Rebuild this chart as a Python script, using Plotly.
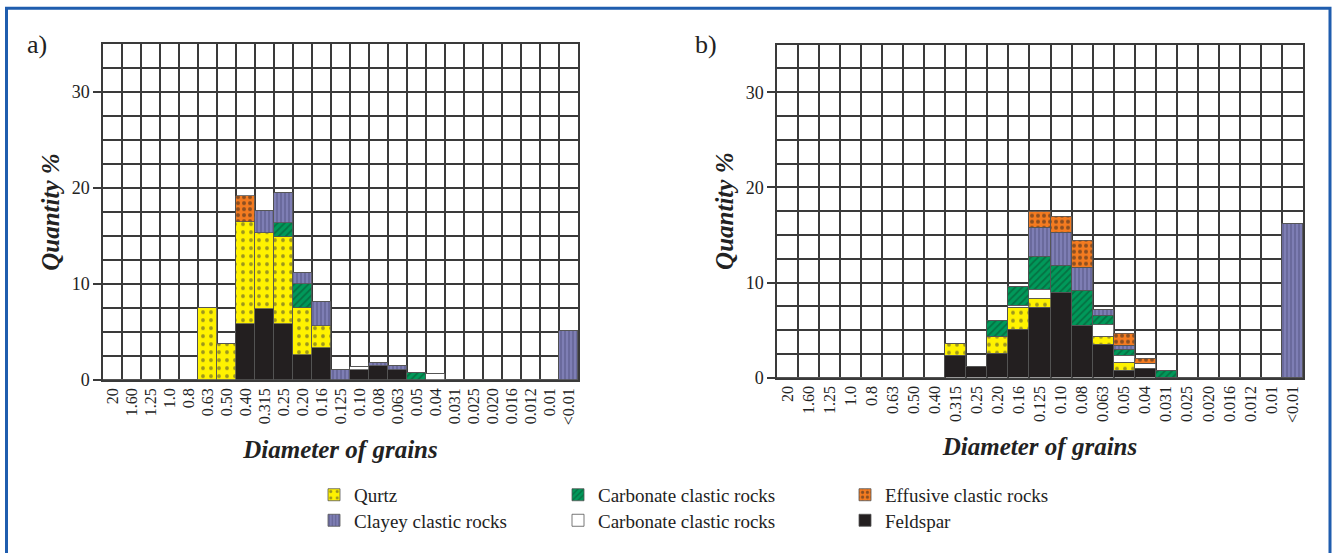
import plotly.graph_objects as go

W, H = 1335, 553

categories = ["20", "1.60", "1.25", "1.0", "0.8", "0.63", "0.50", "0.40", "0.315", "0.25",
              "0.20", "0.16", "0.125", "0.10", "0.08", "0.063", "0.05", "0.04", "0.031",
              "0.025", "0.020", "0.016", "0.012", "0.01", "<0.01"]

# Panel a) values (%), stacked bottom -> top
feldspar_a = [0, 0, 0, 0, 0, 0, 0, 5.8, 7.4, 5.8, 2.6, 3.3, 0, 1.0, 1.45, 1.0, 0, 0, 0, 0, 0, 0, 0, 0, 0]
quartz_a   = [0, 0, 0, 0, 0, 7.5, 3.7, 10.6, 7.9, 9.1, 4.85, 2.3, 0, 0, 0, 0, 0, 0, 0, 0, 0, 0, 0, 0, 0]
white_a    = [0, 0, 0, 0, 0, 0, 0, 0, 0, 0, 0, 0, 0, 0.3, 0, 0, 0, 0.6, 0, 0, 0, 0, 0, 0, 0]
green_a    = [0, 0, 0, 0, 0, 0, 0, 0, 0, 1.4, 2.55, 0, 0, 0, 0, 0, 0.75, 0, 0, 0, 0, 0, 0, 0, 0]
clayey_a   = [0, 0, 0, 0, 0, 0, 0, 0, 2.3, 3.2, 1.1, 2.5, 1.05, 0, 0.35, 0.4, 0, 0, 0, 0, 0, 0, 0, 0, 5.1]
effusive_a = [0, 0, 0, 0, 0, 0, 0, 2.8, 0, 0, 0, 0, 0, 0, 0, 0, 0, 0, 0, 0, 0, 0, 0, 0, 0]

# Panel b) values (%)
feldspar_b = [0, 0, 0, 0, 0, 0, 0, 0, 2.35, 1.15, 2.5, 5.0, 7.4, 8.95, 5.45, 3.5, 0.75, 1.0, 0, 0, 0, 0, 0, 0, 0]
quartz_b   = [0, 0, 0, 0, 0, 0, 0, 0, 1.2, 0, 1.8, 2.35, 0.9, 0, 0, 0.8, 0.8, 0, 0, 0, 0, 0, 0, 0, 0]
white_b    = [0, 0, 0, 0, 0, 0, 0, 0, 0, 0, 0, 0.2, 1.0, 0, 0, 1.3, 0.75, 0.5, 0, 0, 0, 0, 0, 0, 0]
green_b    = [0, 0, 0, 0, 0, 0, 0, 0, 0, 0, 1.65, 2.05, 3.4, 2.85, 3.65, 0.9, 0.65, 0, 0.75, 0, 0, 0, 0, 0, 0]
clayey_b   = [0, 0, 0, 0, 0, 0, 0, 0, 0, 0, 0, 0, 3.05, 3.4, 2.5, 0.65, 0.45, 0, 0, 0, 0, 0, 0, 0, 16.2]
effusive_b = [0, 0, 0, 0, 0, 0, 0, 0, 0, 0, 0, 0, 1.65, 1.75, 2.85, 0, 1.2, 0.5, 0, 0, 0, 0, 0, 0, 0]

SERIF = "Liberation Serif"

series = [
    # name, color, pattern, legend id, a-values, b-values
    ("Feldspar", "#231F20", dict(shape=""), "legend6", feldspar_a, feldspar_b),
    ("Qurtz", "#FFF200", dict(shape=".", fgcolor="#3a3a3a", size=8, solidity=0.18, fillmode="overlay"), "legend", quartz_a, quartz_b),
    ("Carbonate clastic rocks ", "#FFFFFF", dict(shape=""), "legend5", white_a, white_b),
    ("Carbonate clastic rocks", "#00995A", dict(shape="/", fgcolor="#0B4A2C", size=5, solidity=0.35, fillmode="overlay"), "legend2", green_a, green_b),
    ("Clayey clastic rocks", "#7E7EB4", dict(shape="|", fgcolor="#4A4A78", size=4, solidity=0.4, fillmode="overlay"), "legend4", clayey_a, clayey_b),
    ("Effusive clastic rocks", "#F47B20", dict(shape=".", fgcolor="#222222", size=6, solidity=0.35, fillmode="overlay"), "legend3", effusive_a, effusive_b),
]

xs = [i + 0.5 for i in range(len(categories))]

fig = go.Figure()
for name, color, pat, leg, va, vb in series:
    for vals, xa, ya, show in ((va, "x", "y", True), (vb, "x2", "y2", False)):
        fig.add_trace(go.Bar(
            x=xs, y=vals, width=1.0, name=name, xaxis=xa, yaxis=ya,
            legendgroup=name, showlegend=show, legend=leg,
            marker=dict(color=color, pattern=pat, line=dict(color="#555555", width=0.8)),
            hoverinfo="x+y+name",
        ))

grid = "#3a3a3a"

def xaxis_cfg(domain, anchor):
    return dict(
        domain=domain, anchor=anchor, range=[0, len(categories)],
        tickmode="array", tickvals=xs, ticktext=categories, tickangle=-90,
        ticks="", showgrid=False, zeroline=False,
        showline=True, linecolor=grid, linewidth=1.5, mirror=True,
        minor=dict(tickmode="linear", tick0=0, dtick=1, showgrid=True, gridcolor=grid, gridwidth=1.6, ticks=""),
        tickfont=dict(family=SERIF, size=16, color="#222"),
        title=dict(text="<b><i>Diameter of grains</i></b>", font=dict(family=SERIF, size=25, color="#222"), standoff=16),
    )

def yaxis_cfg(domain, anchor):
    return dict(
        domain=domain, anchor=anchor, range=[0, 35],
        tickmode="array", tickvals=[0, 10, 20, 30], ticks="outside", ticklen=8, tickwidth=1.5, tickcolor=grid,
        showgrid=True, gridcolor=grid, gridwidth=1.6, zeroline=False,
        showline=True, linecolor=grid, linewidth=1.5, mirror=True,
        minor=dict(tickmode="linear", tick0=0, dtick=2.5, showgrid=True, gridcolor=grid, gridwidth=1.6, ticks=""),
        tickfont=dict(family=SERIF, size=18, color="#222"),
        title=dict(text="<b><i>Quantity %</i></b>", font=dict(family=SERIF, size=25, color="#222"), standoff=5),
    )

def legend_cfg(text_x, y):
    # text starts ~42 px right of the legend's left edge
    return dict(orientation="h", x=(text_x - 42) / W, y=1 - y / H, xanchor="left", yanchor="middle",
                font=dict(family=SERIF, size=19, color="#222"), bgcolor="rgba(0,0,0,0)")

fig.update_layout(
    width=W, height=H, margin=dict(l=0, r=0, t=0, b=0),
    paper_bgcolor="white", plot_bgcolor="white",
    barmode="stack", bargap=0,
    xaxis=xaxis_cfg([103 / W, 578 / W], "y"),
    yaxis=yaxis_cfg([1 - 387 / H, 1 - 45 / H], "x"),
    xaxis2=xaxis_cfg([777 / W, 1303 / W], "y2"),
    yaxis2=yaxis_cfg([1 - 384.7 / H, 1 - 45.5 / H], "x2"),
    legend=legend_cfg(356, 504),
    legend2=legend_cfg(600, 504),
    legend3=legend_cfg(887, 504),
    legend4=legend_cfg(356, 530),
    legend5=legend_cfg(600, 530),
    legend6=legend_cfg(887, 530),
    annotations=[
        dict(text="a)", x=25 / W, y=1 - 45 / H, xref="paper", yref="paper", xanchor="left", yanchor="middle",
             showarrow=False, font=dict(family=SERIF, size=26, color="#222")),
        dict(text="b)", x=693 / W, y=1 - 45 / H, xref="paper", yref="paper", xanchor="left", yanchor="middle",
             showarrow=False, font=dict(family=SERIF, size=26, color="#222")),
    ],
    shapes=[
        dict(type="rect", xref="paper", yref="paper", x0=6.5 / W, x1=1330 / W, y0=-0.05, y1=1 - 8.5 / H,
             line=dict(color="#1F5DAE", width=3), fillcolor="rgba(0,0,0,0)", layer="below"),
    ],
)

post = (
    "document.documentElement.style.margin='0px';"
    "document.documentElement.style.overflow='hidden';"
    "document.body.style.margin='0px';"
    "document.body.style.overflow='hidden';"
)

fig.write_html("out.html", config={"displayModeBar": False}, post_script=post)
